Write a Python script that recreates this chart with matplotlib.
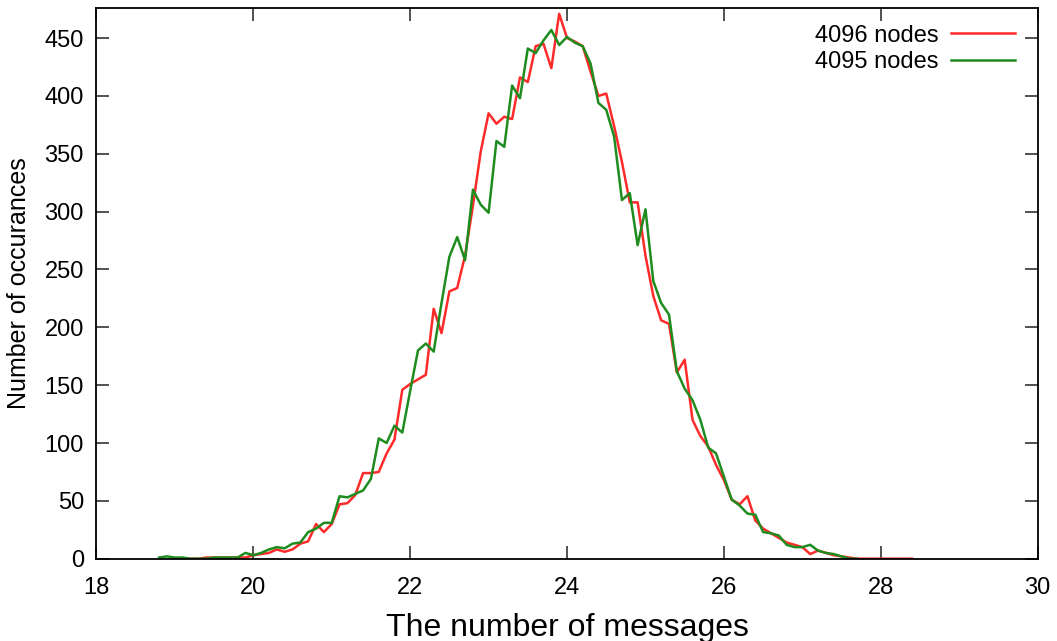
import numpy as np
import matplotlib
matplotlib.use("Agg")
import matplotlib.pyplot as plt

plt.rcParams["font.family"] = ["Liberation Sans", "DejaVu Sans"]

# bins are 0.1 apart
red_start = 19.0
red_counts = [0, 0, 0, 0, 1, 1, 1, 1, 1, 1,
              3, 4, 5, 8, 6, 8, 13, 15, 30, 23,
              30, 47, 48, 55, 74, 74, 75, 91, 103, 146,
              151, 155, 159, 216, 195, 231, 234, 262, 305, 352,
              385, 376, 382, 380, 416, 412, 443, 445, 424, 471,
              450, 447, 443, 421, 400, 402, 374, 343, 308, 308,
              262, 227, 206, 203, 161, 172, 120, 106, 97, 81,
              68, 51, 47, 54, 33, 26, 22, 18, 14, 12,
              10, 4, 7, 5, 3, 2, 1, 0, 0, 0,
              0, 0, 0, 0, 0]

green_start = 18.8
green_counts = [1, 2, 1, 1, 0, 0, 0, 1, 1, 1, 1, 5,
                3, 5, 8, 10, 9, 13, 14, 23, 26, 31,
                31, 54, 53, 56, 59, 69, 104, 100, 115, 109,
                145, 180, 186, 179, 221, 261, 278, 258, 319, 306,
                299, 361, 356, 409, 398, 441, 437, 448, 457, 444,
                451, 446, 443, 428, 394, 388, 365, 310, 316, 271,
                302, 240, 221, 211, 162, 147, 137, 120, 96, 91,
                71, 51, 46, 39, 38, 23, 22, 20, 12, 10,
                10, 12, 7, 5, 4, 2, 0, 0]

labels = ["4096 nodes", "4095 nodes"]
xticks = [18, 20, 22, 24, 26, 28, 30]
yticks = [0, 50, 100, 150, 200, 250, 300, 350, 400, 450]

red_x = red_start + 0.1 * np.arange(len(red_counts))
green_x = green_start + 0.1 * np.arange(len(green_counts))

fig = plt.figure(figsize=(10.57, 6.41), dpi=100)
ax = fig.add_axes([0.0912, 0.1284, 0.8905, 0.8591])

ax.plot(red_x, red_counts, color="#ff2a2a", lw=1.8, label=labels[0])
ax.plot(green_x, green_counts, color="#1f8c1f", lw=1.8, label=labels[1])

ax.set_xlim(18, 30)
ax.set_ylim(0, 476)
ax.set_xticks(xticks)
ax.set_yticks(yticks)

ax.tick_params(direction="in", length=9.5, width=1.1, labelsize=17,
               top=True, right=True, color="#222222")
ax.tick_params(axis="x", pad=13)
ax.tick_params(axis="y", pad=9)
for s in ax.spines.values():
    s.set_linewidth(1.3)

ax.set_xlabel("The number of messages", fontsize=23, labelpad=10)
ax.set_ylabel("Number of occurances", fontsize=18, labelpad=10)

ax.legend(loc="upper right", frameon=False, markerfirst=False, fontsize=17,
          handlelength=2.7, handletextpad=0.5, labelspacing=0.2,
          borderaxespad=0.3, bbox_to_anchor=(0.993, 1.0))

plt.savefig("out.png", dpi=100)
plt.close()
